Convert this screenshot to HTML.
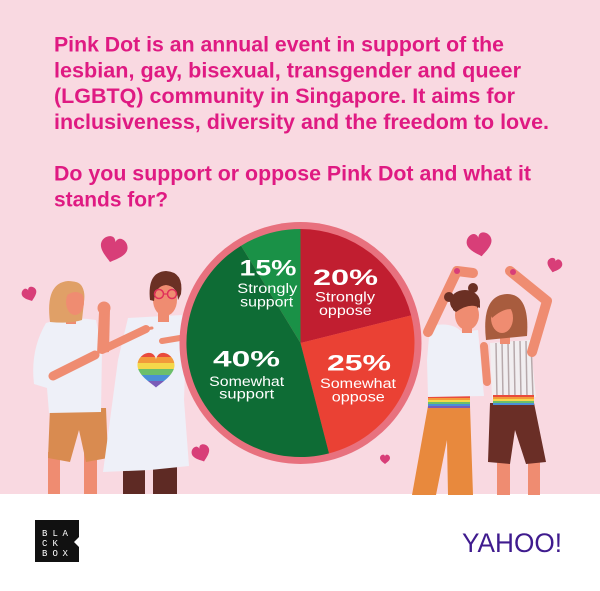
<!DOCTYPE html>
<html>
<head>
<meta charset="utf-8">
<style>
html,body{margin:0;padding:0;background:#fff;}
svg{display:block;}
.t{font-family:"Liberation Sans",Arial,sans-serif;font-weight:bold;font-size:21.3px;fill:#df1a82;}
.p{font-family:"Liberation Sans",Arial,sans-serif;font-weight:bold;font-size:22px;fill:#fff;}
.s{font-family:"Liberation Sans",Arial,sans-serif;font-size:13.5px;fill:#fff;}
.bb{font-family:"Liberation Mono","DejaVu Sans Mono",monospace;font-size:9px;fill:#fff;}
</style>
</head>
<body>
<svg width="600" height="591" viewBox="0 0 600 591" xmlns="http://www.w3.org/2000/svg">
<defs>
  <path id="h" d="M0,1 C-0.2,0.8 -1,0.35 -1,-0.2 C-1,-0.65 -0.55,-0.95 -0.25,-0.85 C-0.1,-0.8 0,-0.6 0,-0.5 C0,-0.6 0.1,-0.8 0.25,-0.85 C0.55,-0.95 1,-0.65 1,-0.2 C1,0.35 0.2,0.8 0,1 Z"/>
  <clipPath id="rh"><path transform="translate(156,369) scale(18.5)" d="M0,1 C-0.2,0.8 -1,0.35 -1,-0.2 C-1,-0.65 -0.55,-0.95 -0.25,-0.85 C-0.1,-0.8 0,-0.6 0,-0.5 C0,-0.6 0.1,-0.8 0.25,-0.85 C0.55,-0.95 1,-0.65 1,-0.2 C1,0.35 0.2,0.8 0,1 Z"/></clipPath>
</defs>

<rect width="600" height="591" fill="#f9d9e1"/>
<rect y="494" width="600" height="97" fill="#ffffff"/>

<!-- Title -->
<text class="t" x="54" y="51.5" textLength="450" lengthAdjust="spacingAndGlyphs">Pink Dot is an annual event in support of the</text>
<text class="t" x="54" y="77.3" textLength="467" lengthAdjust="spacingAndGlyphs">lesbian, gay, bisexual, transgender and queer</text>
<text class="t" x="54" y="103" textLength="461" lengthAdjust="spacingAndGlyphs">(LGBTQ) community in Singapore. It aims for</text>
<text class="t" x="54" y="128.8" textLength="495" lengthAdjust="spacingAndGlyphs">inclusiveness, diversity and the freedom to love.</text>
<text class="t" x="54" y="180.5" textLength="477" lengthAdjust="spacingAndGlyphs">Do you support or oppose Pink Dot and what it</text>
<text class="t" x="54" y="206.3" textLength="114" lengthAdjust="spacingAndGlyphs">stands for?</text>

<!-- Hearts -->
<g fill="#d83e78">
  <use href="#h" transform="translate(113.5,249) rotate(15) scale(13.5)"/>
  <use href="#h" transform="translate(29.5,294) rotate(-20) scale(7.5)"/>
  <use href="#h" transform="translate(201,453) rotate(-20) scale(9)"/>
  <use href="#h" transform="translate(385,459) scale(5)"/>
  <use href="#h" transform="translate(479.5,244) rotate(-10) scale(12.5)"/>
  <use href="#h" transform="translate(554.5,265) rotate(15) scale(7.5)"/>
</g>

<!-- Person 1 (blond) -->
<g>
  <rect x="48" y="452" width="12" height="42" fill="#ef8c71"/>
  <rect x="84" y="452" width="13" height="42" fill="#ef8c71"/>
  <path d="M50,408 L106,408 L108,458 L86,462 L79,430 L70,462 L48,458 Z" fill="#d98b50"/>
  <path d="M46,323 Q70,316 96,320 L102,350 L101,412 L49,413 L47,388 L34,384 Q30,350 46,323 Z" fill="#eef0f8"/>
  <rect x="66" y="310" width="10" height="14" fill="#ef8c71"/>
  <path d="M50,322 Q45,283 68,281 Q87,281 84,302 L82,320 Q70,324 50,322 Z" fill="#e0a067"/>
  <ellipse cx="75" cy="302" rx="9" ry="13" fill="#ef8c71"/>
  <path d="M62,290 Q66,280 76,282 Q84,284 84,296 Q76,288 66,296 Z" fill="#e0a067"/>
  <path d="M99,312 L110,310 L109,352 L97,354 Z" fill="#ef8c71"/>
  <circle cx="104" cy="308" r="6.5" fill="#ef8c71"/>
  <line x1="53" y1="376" x2="95" y2="355" stroke="#ef8c71" stroke-width="9" stroke-linecap="round"/>
</g>

<!-- Person 2 (glasses) -->
<g>
  <rect x="123" y="452" width="22" height="42" fill="#5e2a24"/>
  <rect x="153" y="452" width="24" height="42" fill="#5e2a24"/>
  <path d="M128,318 L182,315 L186,345 L184,400 L189,466 L150,470 L103,472 L110,420 L118,360 Z" fill="#eef0f8"/>
  <rect x="158" y="308" width="11" height="14" fill="#ef8c71"/>
  <ellipse cx="165" cy="300" rx="12" ry="16" fill="#ef8c71"/>
  <path d="M150,300 Q147,272 166,271 Q184,272 181,294 L178,300 Q177,286 166,285 Q155,286 154,301 Z" fill="#6b3024"/>
  <circle cx="159" cy="294" r="4.5" fill="none" stroke="#e0305a" stroke-width="1.5"/>
  <circle cx="172" cy="294" r="4.5" fill="none" stroke="#e0305a" stroke-width="1.5"/>
  <line x1="163.5" y1="294" x2="167.5" y2="294" stroke="#e0305a" stroke-width="1.2"/>
  <g clip-path="url(#rh)">
    <rect x="130" y="350" width="52" height="7" fill="#e94b3c"/>
    <rect x="130" y="357" width="52" height="6" fill="#f29a3a"/>
    <rect x="130" y="363" width="52" height="6" fill="#f5d84a"/>
    <rect x="130" y="369" width="52" height="6" fill="#6cbf6a"/>
    <rect x="130" y="375" width="52" height="6" fill="#4a8fd6"/>
    <rect x="130" y="381" width="52" height="8" fill="#7a5bb8"/>
  </g>
  <line x1="102" y1="350" x2="146" y2="329" stroke="#ef8c71" stroke-width="8" stroke-linecap="round"/>
  <line x1="146" y1="329" x2="152" y2="328" stroke="#ef8c71" stroke-width="3" stroke-linecap="round"/>
  <line x1="162" y1="341" x2="180" y2="338" stroke="#ef8c71" stroke-width="6" stroke-linecap="round"/>
</g>

<!-- Pie -->
<circle cx="300.5" cy="343" r="121" fill="#e8717e"/>
<path d="M300.5,343 L300.5,229 A114,114 0 0 1 411.1,315.4 Z" fill="#c11e30"/>
<path d="M300.5,343 L411.1,315.4 A114,114 0 0 1 329,453.4 Z" fill="#ea4134"/>
<path d="M300.5,343 L329,453.4 A114,114 0 0 1 241.1,245.7 Z" fill="#0e6c35"/>
<path d="M300.5,343 L241.1,245.7 A114,114 0 0 1 300.5,229 Z" fill="#1a9147"/>

<text class="p" x="239.5" y="275.5" textLength="57" lengthAdjust="spacingAndGlyphs">15%</text>
<text class="s" x="237.3" y="293" textLength="60" lengthAdjust="spacingAndGlyphs">Strongly</text>
<text class="s" x="240.2" y="306.5" textLength="53" lengthAdjust="spacingAndGlyphs">support</text>

<text class="p" x="313" y="285" textLength="65" lengthAdjust="spacingAndGlyphs">20%</text>
<text class="s" x="315" y="301.5" textLength="60" lengthAdjust="spacingAndGlyphs">Strongly</text>
<text class="s" x="319" y="315" textLength="52.7" lengthAdjust="spacingAndGlyphs">oppose</text>

<text class="p" x="213" y="366.5" textLength="67" lengthAdjust="spacingAndGlyphs">40%</text>
<text class="s" x="209.2" y="386" textLength="75" lengthAdjust="spacingAndGlyphs">Somewhat</text>
<text class="s" x="219.2" y="398.5" textLength="55" lengthAdjust="spacingAndGlyphs">support</text>

<text class="p" x="327" y="370.5" textLength="64" lengthAdjust="spacingAndGlyphs">25%</text>
<text class="s" x="320" y="388" textLength="76" lengthAdjust="spacingAndGlyphs">Somewhat</text>
<text class="s" x="331.8" y="401.5" textLength="53" lengthAdjust="spacingAndGlyphs">oppose</text>

<!-- Person 3 (buns) -->
<g>
  <path d="M428,406 L470,406 L473,495 L448,495 L447,440 L436,495 L412,495 Z" fill="#e8893d"/>
  <rect x="428" y="396" width="42" height="2" fill="#e94b3c"/>
  <rect x="428" y="398" width="42" height="2" fill="#f29a3a"/>
  <rect x="428" y="400" width="42" height="2" fill="#f5d84a"/>
  <rect x="428" y="402" width="42" height="2" fill="#6cbf6a"/>
  <rect x="428" y="404" width="42" height="2" fill="#4a8fd6"/>
  <rect x="428" y="406" width="42" height="2" fill="#7a5bb8"/>
  <path d="M430,326 Q452,321 462,332 L478,330 L484,396 L428,397 L427,360 Z" fill="#eef0f8"/>
  <path d="M428,332 L457,271 L473,273" fill="none" stroke="#ef8c71" stroke-width="10" stroke-linecap="round" stroke-linejoin="round"/>
  <circle cx="457" cy="271" r="3" fill="#d83e78"/>
  <rect x="462" y="320" width="10" height="13" fill="#ef8c71"/>
  <ellipse cx="465" cy="302" rx="15" ry="12" fill="#6b3024"/>
  <circle cx="449" cy="297" r="5" fill="#6b3024"/>
  <circle cx="473" cy="288" r="5" fill="#6b3024"/>
  <ellipse cx="467" cy="315" rx="12" ry="15" fill="#ef8c71"/>
  <path d="M453,310 Q453,296 467,296 Q481,296 480,308 Q470,302 456,312 Z" fill="#6b3024"/>
</g>

<!-- Person 4 (bob, stripes) -->
<g>
  <rect x="497" y="458" width="13" height="37" fill="#ef8c71"/>
  <rect x="528" y="458" width="12" height="37" fill="#ef8c71"/>
  <path d="M490,403 L534,403 L546,462 L526,464 L515,430 L510,464 L488,462 Z" fill="#6a2e26"/>
  <path d="M490,343 L530,340 L536,397 L492,399 Z" fill="#f1eef0"/>
  <g stroke="#b7a9ab" stroke-width="1.5">
    <line x1="496" y1="343" x2="497" y2="398"/>
    <line x1="502" y1="342" x2="503" y2="398"/>
    <line x1="508" y1="342" x2="509" y2="398"/>
    <line x1="514" y1="341" x2="515" y2="398"/>
    <line x1="520" y1="341" x2="521" y2="398"/>
    <line x1="526" y1="341" x2="527" y2="398"/>
    <line x1="531" y1="341" x2="533" y2="397"/>
  </g>
  <rect x="493" y="395" width="41" height="2" fill="#e94b3c"/>
  <rect x="493" y="397" width="41" height="2" fill="#f29a3a"/>
  <rect x="493" y="399" width="41" height="2" fill="#f5d84a"/>
  <rect x="493" y="401" width="41" height="2" fill="#6cbf6a"/>
  <rect x="493" y="403" width="41" height="2" fill="#4a8fd6"/>
  <line x1="484" y1="346" x2="487" y2="382" stroke="#ef8c71" stroke-width="8" stroke-linecap="round"/>
  <path d="M532,352 L547,301 L510,271" fill="none" stroke="#ef8c71" stroke-width="10" stroke-linecap="round" stroke-linejoin="round"/>
  <circle cx="513" cy="272" r="3" fill="#d83e78"/>
  <rect x="500" y="332" width="10" height="12" fill="#ef8c71"/>
  <path d="M486,340 Q481,295 507,294 Q530,294 527,336 Z" fill="#a85c3e"/>
  <ellipse cx="502" cy="318" rx="11" ry="15" fill="#ef8c71"/>
  <path d="M490,314 Q490,300 505,300 Q520,300 518,312 Q508,304 492,318 Z" fill="#a85c3e"/>
</g>

<!-- Footer logos -->
<path d="M35,520 L79,520 L79,537 L74,542 L79,547 L79,562 L35,562 Z" fill="#111"/>
<text class="bb" x="42" y="536">B</text><text class="bb" x="52.5" y="536">L</text><text class="bb" x="62.5" y="536">A</text>
<text class="bb" x="42" y="546">C</text><text class="bb" x="52.5" y="546">K</text>
<text class="bb" x="42" y="556">B</text><text class="bb" x="52.5" y="556">O</text><text class="bb" x="62.5" y="556">X</text>

<text x="462" y="552" textLength="100" lengthAdjust="spacingAndGlyphs" style="font-family:'Liberation Sans',Arial,sans-serif;font-size:27px;fill:#3f1b8e;">YAHOO!</text>
</svg>
</body>
</html>
